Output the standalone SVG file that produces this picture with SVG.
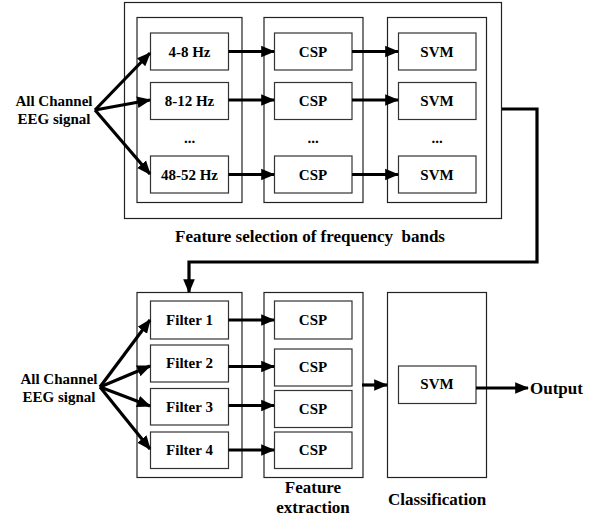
<svg xmlns="http://www.w3.org/2000/svg" width="606" height="523" viewBox="0 0 606 523">
  <style>
    text { font-family: "Liberation Serif", "DejaVu Serif", serif; font-weight: bold; fill: #000; }
    .lbl { font-size: 15px; text-anchor: middle; }
    .cap { font-size: 17px; text-anchor: middle; }
    .frame { fill: #fff; stroke: #222; stroke-width: 1.2; }
    .box { fill: #fff; stroke: #333; stroke-width: 1.2; }
    .arrow { fill: none; stroke: #000; stroke-width: 3.2; marker-end: url(#head); }
    .link { fill: none; stroke: #000; stroke-width: 3.2; }
  </style>
  <defs>
    <marker id="head" markerUnits="userSpaceOnUse" markerWidth="14" markerHeight="14" viewBox="0 0 12 12" refX="11" refY="6" orient="auto">
      <path d="M0,1 L12,6 L0,11 Z" fill="#000"/>
    </marker>
  </defs>

  <!-- upper stage: frequency-band selection -->
  <g id="band-selection">
    <rect class="frame" x="124.5" y="2.5" width="377" height="216"/>
    <text class="cap" x="310" y="242" xml:space="preserve">Feature selection of frequency  bands</text>
  </g>
  <g id="band-filters">
    <rect class="frame" x="137" y="17.5" width="105" height="185"/>
  </g>
  <g id="band-csp">
    <rect class="frame" x="264" y="17.5" width="99" height="185"/>
  </g>
  <g id="band-svm">
    <rect class="frame" x="387.5" y="17.5" width="99" height="185"/>
  </g>

  <g id="src-top">
    <text class="lbl" x="54" y="106">All Channel</text>
    <text class="lbl" x="54" y="124">EEG signal</text>
  </g>

  <g id="f-4-8"><rect class="box" x="150.5" y="33" width="78" height="37"/><text class="lbl" x="189.5" y="56.5">4-8 Hz</text></g>
  <g id="f-8-12"><rect class="box" x="150.5" y="82.5" width="78" height="37"/><text class="lbl" x="189.5" y="106">8-12 Hz</text></g>
  <text class="lbl" x="189.5" y="143">...</text>
  <g id="f-48-52"><rect class="box" x="150.5" y="156" width="78" height="37"/><text class="lbl" x="189.5" y="179.5">48-52 Hz</text></g>

  <g id="csp-a"><rect class="box" x="274.5" y="33" width="77.5" height="37"/><text class="lbl" x="313" y="56.5">CSP</text></g>
  <g id="csp-b"><rect class="box" x="274.5" y="82.5" width="77.5" height="37"/><text class="lbl" x="313" y="106">CSP</text></g>
  <text class="lbl" x="313" y="143">...</text>
  <g id="csp-c"><rect class="box" x="274.5" y="156" width="77.5" height="37"/><text class="lbl" x="313" y="179.5">CSP</text></g>

  <g id="svm-a"><rect class="box" x="398.5" y="33" width="77.5" height="37"/><text class="lbl" x="437" y="56.5">SVM</text></g>
  <g id="svm-b"><rect class="box" x="398.5" y="82.5" width="77.5" height="37"/><text class="lbl" x="437" y="106">SVM</text></g>
  <text class="lbl" x="437" y="143">...</text>
  <g id="svm-c"><rect class="box" x="398.5" y="156" width="77.5" height="37"/><text class="lbl" x="437" y="179.5">SVM</text></g>

  <!-- lower stage: filter bank, CSP features, classifier -->
  <g id="filter-bank"><rect class="frame" x="137" y="292.5" width="105" height="185"/></g>
  <g id="feature-extraction">
    <rect class="frame" x="264" y="292.5" width="99" height="185"/>
    <text class="cap" x="313" y="493">Feature</text>
    <text class="cap" x="313" y="513">extraction</text>
  </g>
  <g id="classification">
    <rect class="frame" x="387.5" y="292.5" width="99" height="185"/>
    <text class="cap" x="437" y="505">Classification</text>
  </g>

  <g id="src-bottom">
    <text class="lbl" x="59" y="384">All Channel</text>
    <text class="lbl" x="59" y="402">EEG signal</text>
  </g>

  <g id="filter1"><rect class="box" x="150.5" y="301" width="78" height="38"/><text class="lbl" x="189.5" y="325">Filter 1</text></g>
  <g id="filter2"><rect class="box" x="150.5" y="345" width="78" height="37"/><text class="lbl" x="189.5" y="368">Filter 2</text></g>
  <g id="filter3"><rect class="box" x="150.5" y="388.5" width="78" height="36.5"/><text class="lbl" x="189.5" y="411.5">Filter 3</text></g>
  <g id="filter4"><rect class="box" x="150.5" y="432" width="78" height="36.5"/><text class="lbl" x="189.5" y="455">Filter 4</text></g>

  <g id="csp1"><rect class="box" x="274.5" y="301" width="77.5" height="38"/><text class="lbl" x="313" y="325">CSP</text></g>
  <g id="csp2"><rect class="box" x="274.5" y="349" width="77.5" height="37"/><text class="lbl" x="313" y="372">CSP</text></g>
  <g id="csp3"><rect class="box" x="274.5" y="390.5" width="77.5" height="37"/><text class="lbl" x="313" y="413.5">CSP</text></g>
  <g id="csp4"><rect class="box" x="274.5" y="432" width="77.5" height="36.5"/><text class="lbl" x="313" y="455">CSP</text></g>

  <g id="svm-final"><rect class="box" x="398.5" y="366" width="77.5" height="37.5"/><text class="lbl" x="437" y="389">SVM</text></g>
  <g id="output"><text x="530" y="393.5" style="font-size:17px">Output</text></g>

  <g id="connectors">
    <!-- upper fan-out -->
    <path class="arrow" d="M95,110 L150,53"/>
    <path class="arrow" d="M95,110 L150,100"/>
    <path class="arrow" d="M95,110 L150,174"/>
    <path class="arrow" d="M228.5,51.5 H274"/>
    <path class="arrow" d="M228.5,100 H274"/>
    <path class="arrow" d="M228.5,174.5 H274"/>
    <path class="arrow" d="M352,51.5 H398"/>
    <path class="arrow" d="M352,100 H398"/>
    <path class="arrow" d="M352,174.5 H398"/>
    <!-- hand-off from upper stage to filter bank -->
    <path class="link" d="M502,109 H537 V262 H189 V282"/>
    <path class="arrow" d="M189,280 V292"/>
    <!-- lower fan-out -->
    <path class="arrow" d="M100,387 L150,320"/>
    <path class="arrow" d="M100,387 L150,366"/>
    <path class="arrow" d="M100,387 L150,406"/>
    <path class="arrow" d="M100,387 L150,449"/>
    <path class="arrow" d="M228.5,320 H274"/>
    <path class="arrow" d="M228.5,366.5 H274"/>
    <path class="arrow" d="M228.5,405.5 H274"/>
    <path class="arrow" d="M228.5,450 H274"/>
    <path class="arrow" d="M362,385 H387"/>
    <path class="arrow" d="M476,388 H528"/>
  </g>
</svg>
